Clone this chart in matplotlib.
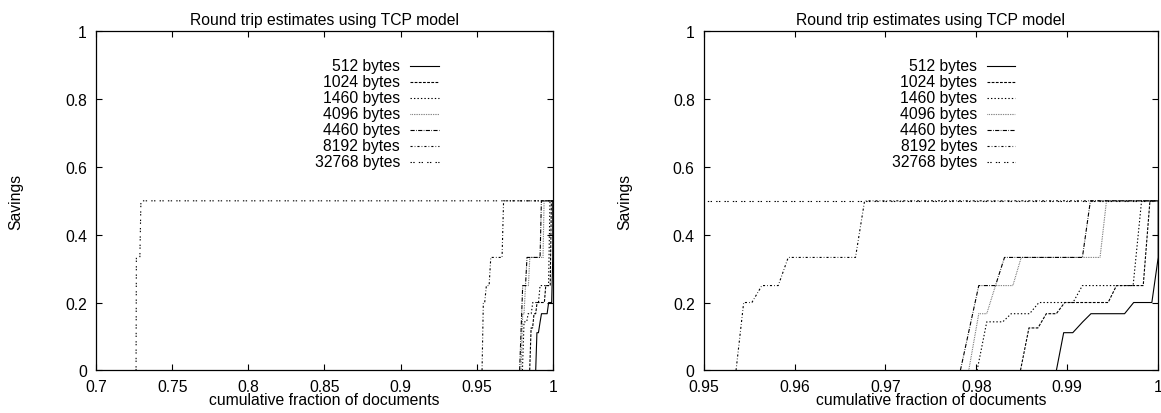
import matplotlib
matplotlib.use("Agg")
import matplotlib.pyplot as plt

plt.rcParams['font.family'] = ['Liberation Sans', 'DejaVu Sans']
plt.rcParams['lines.scale_dashes'] = False

# ---- data (cumulative fraction of documents, savings) ----
labels = ["512 bytes", "1024 bytes", "1460 bytes", "4096 bytes",
          "4460 bytes", "8192 bytes", "32768 bytes"]

x_512 = [0.9888, 0.9896, 0.9906, 0.9917, 0.9926, 0.9963, 0.9973, 0.9993, 1.0, 1.0]
y_512 = [0.0, 0.111, 0.111, 0.143, 0.167, 0.167, 0.2, 0.2, 0.333, 0.5]

x_1024 = [0.98485, 0.98578, 0.98677, 0.98769, 0.98879, 0.98971, 0.99449, 0.99541, 0.99835, 0.99909, 1.0]
y_1024 = [0.0, 0.125, 0.125, 0.167, 0.167, 0.2, 0.2, 0.25, 0.25, 0.5, 0.5]

x_1460 = [0.98008, 0.98114, 0.98290, 0.98383, 0.98585, 0.98688, 0.99063, 0.99166, 0.99724, 0.99817, 1.0]
y_1460 = [0.0, 0.143, 0.143, 0.167, 0.167, 0.2, 0.2, 0.25, 0.25, 0.5, 0.5]

x_4096 = [0.97916, 0.98026, 0.98114, 0.98210, 0.98401, 0.98493, 0.99360, 0.99431, 1.0]
y_4096 = [0.0, 0.167, 0.167, 0.25, 0.25, 0.333, 0.333, 0.5, 0.5]

x_4460 = [0.97824, 0.98026, 0.98210, 0.98309, 0.99166, 0.99254, 1.0]
y_4460 = [0.0, 0.25, 0.25, 0.333, 0.333, 0.5, 0.5]

x_8192 = [0.95356, 0.9544, 0.9553, 0.9564, 0.9582, 0.9593, 0.9667, 0.9677, 1.0]
y_8192 = [0.0, 0.2, 0.2, 0.25, 0.25, 0.333, 0.333, 0.5, 0.5]

x_32768 = [0.7263, 0.7265, 0.7288, 0.7295, 1.0]
y_32768 = [0.0, 0.333, 0.333, 0.5, 0.5]

series_x = [x_512, x_1024, x_1460, x_4096, x_4460, x_8192, x_32768]
series_y = [y_512, y_1024, y_1460, y_4096, y_4460, y_8192, y_32768]

styles = ['-', (0, (2.0, 1.0)), (0, (1.0, 1.5)), (0, (0.5, 0.75)),
          (0, (3.0, 1.0, 0.5, 1.0)), (0, (1.5, 1.5, 0.5, 1.5)), (0, (1.0, 1.0, 1.0, 3.0))]
colors = ['black', 'black', 'black', '#555555', 'black', 'black', 'black']

title = "Round trip estimates using TCP model"
xlabel = "cumulative fraction of documents"
ylabel = "Savings"

left_xticks = [0.7, 0.75, 0.8, 0.85, 0.9, 0.95, 1.0]
left_xticklabels = ["0.7", "0.75", "0.8", "0.85", "0.9", "0.95", "1"]
right_xticks = [0.95, 0.96, 0.97, 0.98, 0.99, 1.0]
right_xticklabels = ["0.95", "0.96", "0.97", "0.98", "0.99", "1"]
yticks = [0, 0.2, 0.4, 0.6, 0.8, 1.0]
yticklabels = ["0", "0.2", "0.4", "0.6", "0.8", "1"]

FS = 11.3

fig = plt.figure(figsize=(11.61, 4.14), dpi=100)
axL = fig.add_axes([0.0827, 0.1031, 0.3934, 0.8188])
axR = fig.add_axes([0.6061, 0.1031, 0.3915, 0.8188])


def style_axes(ax, xlim, xticks, xticklabels, leg_text_x, leg_line_x0, leg_line_x1, ylab_x):
    for sx, sy, ls, c in zip(series_x, series_y, styles, colors):
        ax.plot(sx, sy, linestyle=ls, color=c, linewidth=0.8, clip_on=True)
    ax.set_xlim(*xlim)
    ax.set_ylim(0, 1)
    ax.set_xticks(xticks)
    ax.set_xticklabels(xticklabels, fontsize=FS)
    ax.set_yticks(yticks)
    ax.set_yticklabels(yticklabels, fontsize=FS)
    ax.tick_params(direction='in', length=4, width=0.8, top=True, right=True,
                   pad=6.5, colors='black')
    for sp in ax.spines.values():
        sp.set_linewidth(0.9)
        sp.set_zorder(3)
    ax.set_title(title, fontsize=FS, pad=5)
    ax.set_xlabel(xlabel, fontsize=FS)
    ax.xaxis.set_label_coords(0.5, -0.064)
    ax.set_ylabel(ylabel, fontsize=FS)
    ax.yaxis.set_label_coords(ylab_x, 0.5)
    # gnuplot-style key: right-aligned labels, sample line to the right
    y0 = 0.8985
    dy = 0.0472
    for i, (lab, ls, c) in enumerate(zip(labels, styles, colors)):
        yy = y0 - i * dy
        ax.text(leg_text_x, yy, lab, transform=ax.transAxes, ha='right', va='center',
                fontsize=FS)
        ax.plot([leg_line_x0, leg_line_x1], [yy, yy], transform=ax.transAxes,
                linestyle=ls, color=c, linewidth=0.8)


style_axes(axL, (0.7, 1.0), left_xticks, left_xticklabels, 0.6655, 0.687, 0.7515, -0.16)
style_axes(axR, (0.95, 1.0), right_xticks, right_xticklabels, 0.602, 0.624, 0.686, -0.158)

fig.savefig("out.png", dpi=100)
